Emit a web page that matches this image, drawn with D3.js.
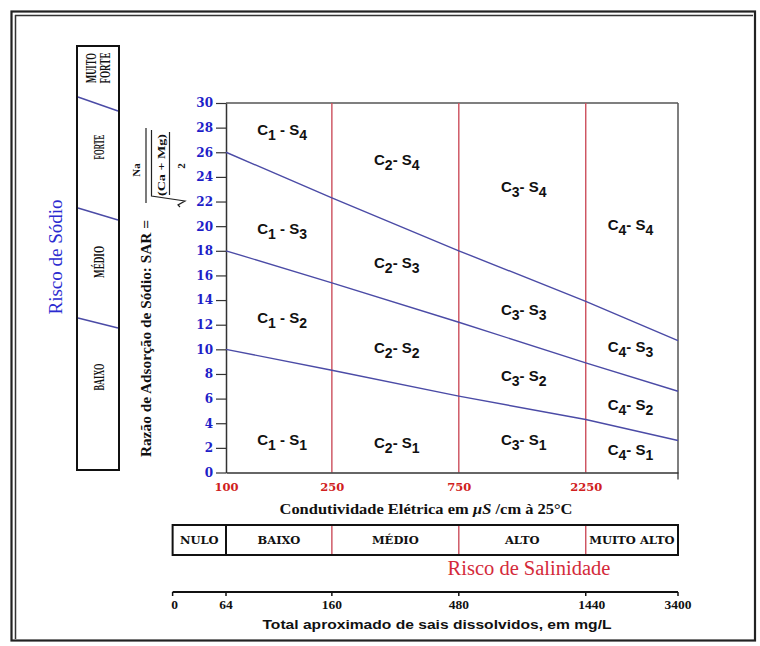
<!DOCTYPE html>
<html><head><meta charset="utf-8">
<script src="https://cdn.jsdelivr.net/npm/d3@7"></script>
<style>html,body{margin:0;padding:0;background:#fff}</style>
</head><body>
<svg id="chart" width="760" height="646"></svg>
<script>
// ---------- DATA ----------
const ecTicks = [100, 250, 750, 2250];
const sarTicks = [0, 2, 4, 6, 8, 10, 12, 14, 16, 18, 20, 22, 24, 26, 28, 30];
const boundaryEC = [100, 250, 750, 2250, 5000];
const boundaryS1S2 = [10.0, 8.3, 6.2, 4.3, 2.6];
const boundaryS2S3 = [18.0, 15.4, 12.2, 8.9, 6.6];
const boundaryS3S4 = [26.0, 22.3, 18.0, 13.9, 10.7];
const zoneC = [1, 2, 3, 4];
const zoneLabelEC = [131, 360, 1080, 2720];
const zoneS4SAR = [27.4, 25.0, 22.8, 19.7];
const zoneS3SAR = [19.4, 16.6, 12.8, 9.8];
const zoneS2SAR = [12.1, 9.7, 7.4, 5.1];
const zoneS1SAR = [2.2, 2.0, 2.2, 1.4];
const salinityClasses = ["NULO", "BAIXO", "MÉDIO", "ALTO", "MUITO ALTO"];
const salinityBreaksEC = [63, 100, 250, 750, 2250, 5000];
const tdsTicks = [0, 64, 160, 480, 1440, 3400];
const sodiumClasses = ["BAIXO", "MÉDIO", "FORTE", "MUITO FORTE"];

// ---------- STYLE / LAYOUT ----------
const serif = "'Liberation Serif','Times New Roman',serif";
const wideSerif = "'DejaVu Serif',serif";
const sans = "'Liberation Sans',Arial,sans-serif";
const blueLine = "#4b4ba6";
const redLine = "#cc4f5c";

const svg = d3.select("#chart");
svg.append("rect").attr("width", 760).attr("height", 646).attr("fill", "#fff");

// frame
svg.append("rect").attr("x", 11.5).attr("y", 11.5).attr("width", 743.5).attr("height", 629)
  .attr("fill", "none").attr("stroke", "#222").attr("stroke-width", 2.2);
svg.append("line").attr("x1", 15.5).attr("x2", 15.5).attr("y1", 15).attr("y2", 639)
  .attr("stroke", "#333").attr("stroke-width", 1.5);
svg.append("line").attr("x1", 15).attr("x2", 753).attr("y1", 15.5).attr("y2", 15.5)
  .attr("stroke", "#333").attr("stroke-width", 1.5);

const x = d3.scaleLog().domain([100, 5000]).range([226, 678]);
const y = d3.scaleLinear().domain([0, 30]).range([472.5, 103]);

// plot frame (top and right)
svg.append("line").attr("x1", x(100)).attr("x2", x(5000)).attr("y1", y(30)).attr("y2", y(30))
  .attr("stroke", "#555").attr("stroke-width", 1.5);
svg.append("line").attr("x1", x(5000)).attr("x2", x(5000)).attr("y1", y(30)).attr("y2", y(0) + 7)
  .attr("stroke", "#555").attr("stroke-width", 1.5);

// red vertical class lines
svg.selectAll("line.vline").data(ecTicks.slice(1)).enter().append("line")
  .attr("class", "vline")
  .attr("x1", d => x(d)).attr("x2", d => x(d)).attr("y1", y(30)).attr("y2", y(0))
  .attr("stroke", redLine).attr("stroke-width", 1.4);

// y axis
const yAxis = svg.append("g").attr("transform", `translate(${x(100)},0)`)
  .call(d3.axisLeft(y).tickValues(sarTicks).tickSize(10).tickSizeOuter(0).tickPadding(3));
yAxis.select(".domain").attr("stroke", "#333").attr("stroke-width", 1.5);
yAxis.selectAll(".tick line").attr("stroke", "#333").attr("stroke-width", 1.2);
yAxis.selectAll(".tick text").attr("font-family", wideSerif).attr("font-weight", "bold")
  .attr("font-size", 12).attr("fill", "#1e1ec8");

// x axis
const xAxis = svg.append("g").attr("transform", `translate(0,${y(0)})`)
  .call(d3.axisBottom(x).tickValues(ecTicks).tickSize(0).tickSizeOuter(0).tickPadding(10).tickFormat(d3.format("d")));
xAxis.select(".domain").attr("stroke", "#333").attr("stroke-width", 1.5);
xAxis.selectAll(".tick text").attr("font-family", wideSerif).attr("font-weight", "bold")
  .attr("font-size", 11.5).attr("fill", "#d02020");

// boundary lines
const lineGen = d3.line().x(d => x(d[0])).y(d => y(d[1]));
[boundaryS1S2, boundaryS2S3, boundaryS3S4].forEach(vals => {
  svg.append("path").datum(boundaryEC.map((e, i) => [e, vals[i]]))
    .attr("d", lineGen).attr("fill", "none").attr("stroke", blueLine).attr("stroke-width", 1.4);
});

// zone labels
function zoneLabel(c, s, ec, sar) {
  const t = svg.append("text").attr("x", x(ec)).attr("y", y(sar))
    .attr("font-family", sans).attr("font-weight", "bold").attr("font-size", 15).attr("fill", "#111");
  t.append("tspan").text("C");
  t.append("tspan").attr("dy", 5).attr("font-size", 14).text(c);
  t.append("tspan").attr("dy", -5).text(c === 1 ? " - S" : "- S");
  t.append("tspan").attr("dy", 5).attr("font-size", 14).text(s);
}
[[1, zoneS1SAR], [2, zoneS2SAR], [3, zoneS3SAR], [4, zoneS4SAR]].forEach(([s, arr]) => {
  zoneC.forEach((c, i) => zoneLabel(c, s, zoneLabelEC[i], arr[i]));
});

// x title
const xt = svg.append("text").attr("x", 426).attr("y", 514).attr("text-anchor", "middle")
  .attr("font-family", serif).attr("font-weight", "bold").attr("font-size", 15).attr("fill", "#111")
  .attr("textLength", 293).attr("lengthAdjust", "spacingAndGlyphs");
xt.append("tspan").text("Condutividade Elétrica em ");
xt.append("tspan").attr("font-style", "italic").text("µS");
xt.append("tspan").text(" /cm à 25°C");

// salinity class box
const boxTop = 525, boxBot = 555;
svg.append("rect").attr("x", x(salinityBreaksEC[0])).attr("y", boxTop)
  .attr("width", x(salinityBreaksEC[5]) - x(salinityBreaksEC[0])).attr("height", boxBot - boxTop)
  .attr("fill", "none").attr("stroke", "#111").attr("stroke-width", 2);
salinityBreaksEC.slice(1, 5).forEach((b, i) => {
  svg.append("line").attr("x1", x(b)).attr("x2", x(b)).attr("y1", boxTop + 1).attr("y2", boxBot - 1)
    .attr("stroke", i === 0 ? "#111" : redLine).attr("stroke-width", i === 0 ? 2 : 1.4);
});
salinityClasses.forEach((c, i) => {
  svg.append("text").attr("x", (x(salinityBreaksEC[i]) + x(salinityBreaksEC[i + 1])) / 2).attr("y", 544)
    .attr("text-anchor", "middle").attr("font-family", wideSerif).attr("font-weight", "bold")
    .attr("font-size", 11.5).attr("fill", "#111").text(c);
});
svg.append("text").attr("x", 529).attr("y", 575).attr("text-anchor", "middle")
  .attr("font-family", serif).attr("font-size", 20.5).attr("fill", "#d42a3a").text("Risco de Salinidade");

// TDS axis
const tdsY = 592;
svg.append("line").attr("x1", x(salinityBreaksEC[0])).attr("x2", x(salinityBreaksEC[5]))
  .attr("y1", tdsY).attr("y2", tdsY).attr("stroke", "#111").attr("stroke-width", 2);
tdsTicks.forEach((t, i) => {
  const px = x(salinityBreaksEC[i]);
  svg.append("line").attr("x1", px).attr("x2", px).attr("y1", tdsY).attr("y2", tdsY + 4)
    .attr("stroke", "#111").attr("stroke-width", 1.5);
  svg.append("text").attr("x", px + (i === 4 ? 6 : i === 0 ? 2 : 0)).attr("y", 609).attr("text-anchor", "middle")
    .attr("font-family", serif).attr("font-weight", "bold").attr("font-size", 13.5).attr("fill", "#111").text(t);
});
svg.append("text").attr("x", 437).attr("y", 629).attr("text-anchor", "middle")
  .attr("font-family", sans).attr("font-weight", "bold").attr("font-size", 13).attr("fill", "#111")
  .attr("textLength", 349).attr("lengthAdjust", "spacingAndGlyphs")
  .text("Total aproximado de sais dissolvidos, em mg/L");

// sodium risk panel
const sp = {x0: 77, x1: 119, top: 46, bottom: 470};
svg.append("rect").attr("x", sp.x0).attr("y", sp.top).attr("width", sp.x1 - sp.x0).attr("height", sp.bottom - sp.top)
  .attr("fill", "none").attr("stroke", "#111").attr("stroke-width", 2);
const sodiumDividers = [[318, 328], [208, 220], [97, 111]];
sodiumDividers.forEach(([yl, yr]) => {
  svg.append("line").attr("x1", sp.x0 + 1).attr("x2", sp.x1 - 1).attr("y1", yl).attr("y2", yr)
    .attr("stroke", blueLine).attr("stroke-width", 1.4);
});
const sodiumLabelPos = [
  {lines: [sodiumClasses[0]], cy: 377, bx: [104], len: [27]},
  {lines: [sodiumClasses[1]], cy: 262, bx: [104], len: [32]},
  {lines: [sodiumClasses[2]], cy: 147, bx: [104], len: [25]},
  {lines: sodiumClasses[3].split(" "), cy: 68, bx: [96, 110], len: [30, 31]}
];
sodiumLabelPos.forEach(p => {
  p.lines.forEach((ln, j) => {
    svg.append("text").attr("transform", `translate(${p.bx[j]},${p.cy}) rotate(-90)`)
      .attr("text-anchor", "middle").attr("font-family", serif).attr("font-weight", "bold")
      .attr("font-size", 14).attr("fill", "#111")
      .attr("textLength", p.len[j]).attr("lengthAdjust", "spacingAndGlyphs").text(ln);
  });
});
svg.append("text").attr("transform", "translate(62,257) rotate(-90)").attr("text-anchor", "middle")
  .attr("font-family", serif).attr("font-size", 19).attr("fill", "#2b2bd0").text("Risco de Sódio");

// y title and SAR formula (rotated)
svg.append("text").attr("transform", "translate(151,457) rotate(-90)").attr("text-anchor", "start")
  .attr("font-family", serif).attr("font-weight", "bold").attr("font-size", 15).attr("fill", "#111")
  .attr("textLength", 237).attr("lengthAdjust", "spacingAndGlyphs")
  .text("Razão de Adsorção de Sódio: SAR =");
const fg = svg.append("g").attr("transform", "rotate(-90)");
fg.append("text").attr("x", -170).attr("y", 140).attr("text-anchor", "middle")
  .attr("font-family", serif).attr("font-weight", "bold").attr("font-size", 11).attr("fill", "#111").text("Na");
fg.append("line").attr("x1", -203).attr("x2", -128).attr("y1", 146).attr("y2", 146)
  .attr("stroke", "#222").attr("stroke-width", 1.2);
fg.append("path").attr("d", "M-130,151.5 L-196,151.5 L-201,185 L-205,178 L-207,180")
  .attr("fill", "none").attr("stroke", "#222").attr("stroke-width", 1.2);
fg.append("text").attr("x", -165).attr("y", 165).attr("text-anchor", "middle")
  .attr("font-family", serif).attr("font-weight", "bold").attr("font-size", 11).attr("fill", "#111")
  .attr("textLength", 62).attr("lengthAdjust", "spacingAndGlyphs").text("(Ca  +  Mg)");
fg.append("line").attr("x1", -195).attr("x2", -132).attr("y1", 169.5).attr("y2", 169.5)
  .attr("stroke", "#222").attr("stroke-width", 1.2);
fg.append("text").attr("x", -166).attr("y", 185).attr("text-anchor", "middle")
  .attr("font-family", serif).attr("font-weight", "bold").attr("font-size", 11).attr("fill", "#111").text("2");
</script>
</body></html>
